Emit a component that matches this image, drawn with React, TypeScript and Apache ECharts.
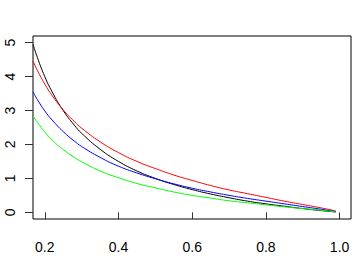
import React, { useEffect, useRef } from "react";
import * as echarts from "echarts";

const xs = [0.168, 0.18, 0.2, 0.22, 0.25, 0.28, 0.3, 0.35, 0.4, 0.45, 0.5, 0.55, 0.6, 0.65, 0.7, 0.75, 0.8, 0.85, 0.9, 0.95, 0.99];
const blackVals = [4.95, 4.56, 4.0, 3.55, 3.0, 2.57, 2.33, 1.86, 1.5, 1.22, 1.0, 0.82, 0.67, 0.54, 0.43, 0.33, 0.25, 0.18, 0.11, 0.05, 0.01];
const redVals = [4.46, 4.18, 3.78, 3.44, 3.02, 2.68, 2.48, 2.08, 1.76, 1.5, 1.29, 1.1, 0.94, 0.79, 0.66, 0.55, 0.44, 0.33, 0.23, 0.13, 0.04];
const blueVals = [3.55, 3.32, 2.99, 2.72, 2.38, 2.1, 1.94, 1.62, 1.36, 1.16, 0.99, 0.84, 0.71, 0.6, 0.5, 0.41, 0.33, 0.25, 0.17, 0.09, 0.02];
const greenVals = [2.84, 2.65, 2.37, 2.13, 1.85, 1.62, 1.49, 1.22, 1.02, 0.85, 0.72, 0.6, 0.5, 0.42, 0.34, 0.28, 0.22, 0.16, 0.11, 0.06, 0.01];
const xTicks = [0.2, 0.4, 0.6, 0.8, 1.0];
const yTicks = [0, 1, 2, 3, 4, 5];

const FONT = "'Liberation Sans', Arial, Helvetica, sans-serif";

export default function App() {
  const ref = useRef<HTMLDivElement>(null);
  useEffect(() => {
    if (!ref.current) return;
    const chart = echarts.init(ref.current, undefined, { renderer: "svg" });
    const mk = (vals: number[], color: string) => ({
      type: "line",
      data: xs.map((x, i) => [x, vals[i]]),
      smooth: true,
      showSymbol: false,
      symbol: "none",
      lineStyle: { color, width: 1 },
      clip: true,
    });
    chart.setOption({
      animation: false,
      backgroundColor: "#ffffff",
      grid: {
        left: 33,
        top: 36,
        right: 3,
        bottom: 37,
        show: true,
        borderColor: "#000",
        borderWidth: 1,
        backgroundColor: "transparent",
      },
      xAxis: {
        type: "value",
        min: 0.168,
        max: 1.031,
        axisLine: { show: false },
        splitLine: { show: false },
        axisTick: { show: true, length: 7, lineStyle: { color: "#333" }, customValues: xTicks },
        axisLabel: {
          show: true,
          customValues: xTicks,
          formatter: (v: number) => v.toFixed(1),
          color: "#000",
          fontSize: 14,
          fontFamily: FONT,
          margin: 21,
        },
      },
      yAxis: {
        type: "value",
        min: -0.197,
        max: 5.197,
        axisLine: { show: false },
        splitLine: { show: false },
        axisTick: { show: true, length: 8, lineStyle: { color: "#333" }, customValues: yTicks },
        axisLabel: {
          show: true,
          customValues: yTicks,
          rotate: 90,
          formatter: (v: number) => String(v),
          color: "#000",
          fontSize: 14,
          fontFamily: FONT,
          margin: 16,
        },
      },
      series: [mk(blackVals, "#000000"), mk(redVals, "#ff0000"), mk(blueVals, "#0000ff"), mk(greenVals, "#00ff00")],
    });
    return () => chart.dispose();
  }, []);
  return <div ref={ref} style={{ position: "fixed", left: 0, top: 0, width: 354, height: 256 }} />;
}
